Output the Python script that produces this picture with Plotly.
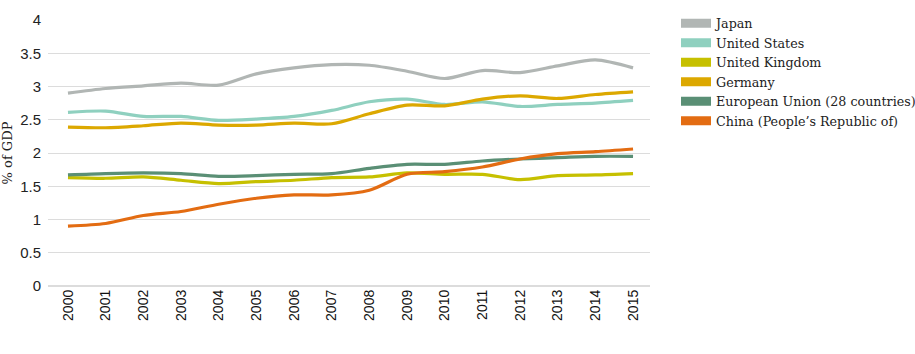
import plotly.graph_objects as go

years = list(range(2000, 2016))
series_names = ["Japan", "United States", "United Kingdom", "Germany",
                "European Union (28 countries)", "China (People\u2019s Republic of)"]
japan = [2.90, 2.97, 3.01, 3.05, 3.02, 3.19, 3.28, 3.33, 3.32, 3.23, 3.12, 3.24, 3.21, 3.31, 3.40, 3.28]
united_states = [2.61, 2.63, 2.55, 2.55, 2.49, 2.51, 2.55, 2.64, 2.77, 2.81, 2.73, 2.77, 2.70, 2.73, 2.75, 2.79]
united_kingdom = [1.63, 1.62, 1.64, 1.59, 1.54, 1.57, 1.59, 1.63, 1.64, 1.70, 1.68, 1.68, 1.60, 1.66, 1.67, 1.69]
germany = [2.39, 2.38, 2.41, 2.45, 2.42, 2.42, 2.45, 2.44, 2.59, 2.72, 2.71, 2.81, 2.86, 2.82, 2.88, 2.92]
eu28 = [1.67, 1.69, 1.70, 1.69, 1.65, 1.66, 1.68, 1.69, 1.77, 1.83, 1.83, 1.88, 1.91, 1.93, 1.95, 1.95]
china = [0.90, 0.94, 1.06, 1.12, 1.23, 1.32, 1.37, 1.37, 1.44, 1.68, 1.72, 1.79, 1.91, 1.99, 2.02, 2.06]
colors = ["#b1b6b4", "#8fd0bf", "#c6c000", "#dca800", "#5a8f75", "#e36c12"]
values = [japan, united_states, united_kingdom, germany, eu28, china]

fig = go.Figure()
for name, vals, col in zip(series_names, values, colors):
    fig.add_trace(go.Scatter(x=years, y=vals, mode="lines", name=name,
                             line=dict(color=col, width=3.2, shape="spline", smoothing=0.8),
                             showlegend=False, hoverinfo="x+y+name"))
for name, col in zip(series_names, colors):
    fig.add_trace(go.Scatter(x=[None], y=[None], mode="lines", name=name,
                             line=dict(color=col, width=9), showlegend=True))

fig.update_layout(
    width=915, height=354,
    margin=dict(l=48, r=265, t=20, b=68, autoexpand=False),
    plot_bgcolor="white", paper_bgcolor="white",
    font=dict(family="DejaVu Serif", size=13, color="#222"),
    legend=dict(x=0.7388, xanchor="left", xref="container", y=0.976, yanchor="top", yref="container",
                font=dict(family="DejaVu Serif", size=12.7, color="#222"),
                tracegroupgap=0, itemwidth=30, bgcolor="rgba(0,0,0,0)"),
    xaxis=dict(range=[1999.47, 2015.45], tickmode="array", tickvals=years,
               ticktext=[str(y) for y in years], tickangle=-90,
               tickfont=dict(family="Liberation Sans", size=14, color="#111"),
               showgrid=False, zeroline=False, showline=False, ticks=""),
    yaxis=dict(range=[0, 4.0], tickmode="array", tickvals=[0, 0.5, 1, 1.5, 2, 2.5, 3, 3.5, 4],
               ticktext=["0", "0.5", "1", "1.5", "2", "2.5", "3", "3.5", "4"],
               gridcolor="#dcdcdc", gridwidth=1, zeroline=True, zerolinecolor="#dcdcdc",
               showline=False, ticks="", ticklabelstandoff=6,
               tickfont=dict(family="Liberation Sans", size=15, color="#222"),
               title=dict(text="% of GDP", standoff=6,
                          font=dict(family="DejaVu Serif", size=13, color="#222"))),
)
fig.write_html("out.html")
